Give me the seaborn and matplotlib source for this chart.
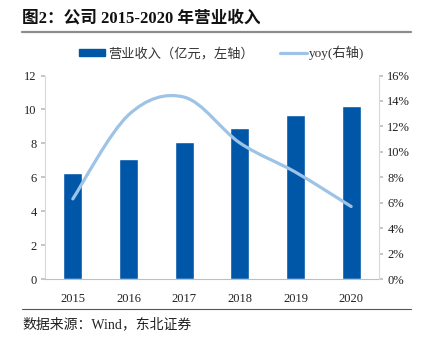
import matplotlib
matplotlib.use("Agg")
import matplotlib.pyplot as plt
from matplotlib.path import Path
from matplotlib.patches import PathPatch, Patch
from matplotlib.lines import Line2D
import matplotlib.ticker as mticker
import seaborn as sns
import pandas as pd
import numpy as np

years = ["2015", "2016", "2017", "2018", "2019", "2020"]
revenue = [6.24, 7.05, 8.05, 8.9, 9.65, 10.2]
yoy = [6.3, 12.9, 14.3, 10.7, 8.4, 5.7]

sns.set_theme(style="white")
plt.rcParams['font.family'] = ['Liberation Serif', 'Noto Sans CJK SC']

BAR = "#0057A8"
LINE = "#9DC3E6"

fig = plt.figure(figsize=(4.25, 3.39), dpi=100)
ax = fig.add_axes([45/425, 1-279/339, (379-45)/425, (279-75.5)/339])

df = pd.DataFrame({"year": years, "rev": revenue})
sns.barplot(data=df, x="year", y="rev", color=BAR, width=0.34, ax=ax, saturation=1)
ax.set_xlim(-0.5, 5.5)
ax.set_ylim(0, 12)
ax.set_yticks(range(0, 13, 2))
ax.set_xlabel("")
ax.set_ylabel("")
for s in ["top", "right"]:
    ax.spines[s].set_visible(False)
ax.spines["left"].set_color("#d9d9d9")
ax.spines["bottom"].set_color("#bfbfbf")
ax.spines["left"].set_linewidth(0.8)
ax.spines["bottom"].set_linewidth(0.8)
ax.tick_params(axis="y", left=True, length=3, color="#bfbfbf", labelsize=9, pad=3, labelcolor="#222222")
ax.tick_params(axis="x", bottom=False, labelsize=9, pad=4, labelcolor="#222222")

ax2 = ax.twinx()
ax2.set_ylim(0, 16)
ax2.set_yticks(range(0, 17, 2))
ax2.yaxis.set_major_formatter(mticker.FuncFormatter(lambda v, p: f"{int(v)}%"))
for s in ["top", "left", "bottom"]:
    ax2.spines[s].set_visible(False)
ax2.spines["right"].set_color("#d9d9d9")
ax2.spines["right"].set_linewidth(0.8)
ax2.tick_params(axis="y", right=True, length=3, color="#bfbfbf", labelsize=9, pad=3, labelcolor="#222222")
ax2.grid(False)
ax.grid(False)

# smooth (Catmull-Rom -> cubic Bezier) line through the yoy points
xs = np.arange(len(yoy), dtype=float)
ys = np.array(yoy, dtype=float)
verts = [(xs[0], ys[0])]
codes = [Path.MOVETO]
t = 1/6
for i in range(len(xs) - 1):
    p0 = (xs[max(i-1, 0)], ys[max(i-1, 0)])
    p1 = (xs[i], ys[i])
    p2 = (xs[i+1], ys[i+1])
    p3 = (xs[min(i+2, len(xs)-1)], ys[min(i+2, len(xs)-1)])
    c1 = (p1[0] + (p2[0]-p0[0])*t, p1[1] + (p2[1]-p0[1])*t)
    c2 = (p2[0] - (p3[0]-p1[0])*t, p2[1] - (p3[1]-p1[1])*t)
    verts += [c1, c2, p2]
    codes += [Path.CURVE4]*3
patch = PathPatch(Path(verts, codes), facecolor="none", edgecolor=LINE, lw=2.3, capstyle="round")
ax2.add_patch(patch)

# legend
handles = [Patch(facecolor=BAR, edgecolor=BAR), Line2D([0], [0], color=LINE, lw=2.3)]
labels = ["营业收入（亿元，左轴）", "yoy(右轴)"]
leg = fig.legend(handles, labels, loc="center", bbox_to_anchor=(0.522, 1-53/339), ncol=2,
                 frameon=False, fontsize=9.5, handlelength=2.0, handleheight=0.45,
                 columnspacing=2.0, handletextpad=0.2)
for txt in leg.get_texts():
    txt.set_color("#333333")

# title and rules
fig.text(22/425, 1-18/339, "图2：公司 2015-2020 年营业收入", fontsize=12, fontweight="bold",
         va="center", ha="left", family=['Liberation Serif', 'Noto Sans CJK SC'], color="#111111")
fig.add_artist(Line2D([22/425, 411/425], [1-32/339, 1-32/339], color="#8c8c8c", lw=1.6))
fig.add_artist(Line2D([22/425, 411/425], [1-309/339, 1-309/339], color="#555555", lw=0.8))
fig.text(22/425, 1-324/339, "数据来源：Wind，东北证券", fontsize=10, va="center", ha="left",
         family=['Liberation Serif', 'Noto Sans CJK SC'], color="#222222")

fig.savefig("out.png", dpi=100)
